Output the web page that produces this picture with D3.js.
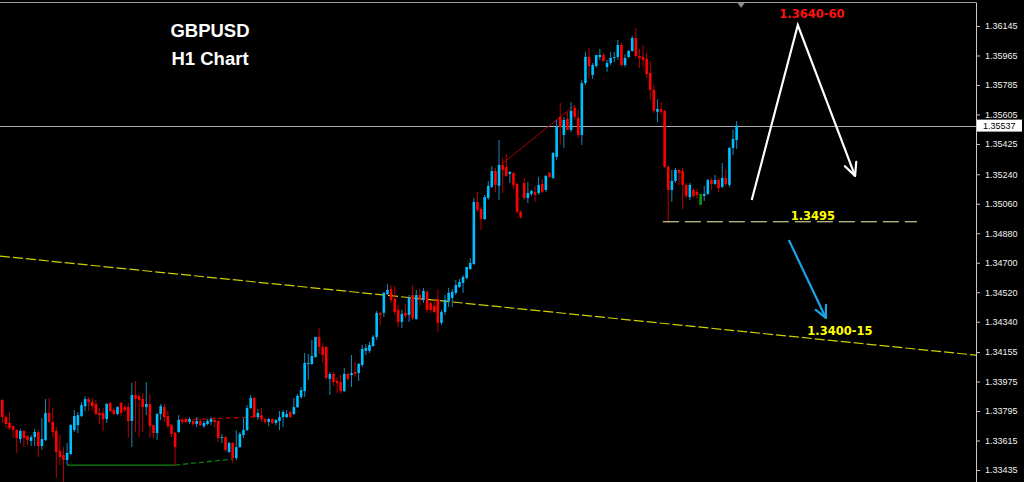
<!DOCTYPE html>
<html><head><meta charset="utf-8">
<script src="https://cdn.jsdelivr.net/npm/d3@7"></script>
<style>html,body{margin:0;padding:0;background:#000;overflow:hidden}</style>
</head><body><svg id="c" width="1024" height="482"></svg>
<script>
// ---- data (GBPUSD H1) ----
const open=[1.33862,1.33758,1.33722,1.33703,1.33679,1.33624,1.33673,1.33642,1.33612,1.33636,
1.33667,1.33581,1.33618,1.33783,1.33728,1.33673,1.33551,1.33526,1.33496,1.33533,
1.33679,1.33709,1.33764,1.33825,1.33868,1.33850,1.33838,1.33783,1.33783,1.33746,
1.33844,1.33801,1.33777,1.33844,1.33819,1.33819,1.33734,1.33893,1.33886,1.33868,
1.33819,1.33838,1.33709,1.33661,1.33777,1.33819,1.33764,1.33709,1.33661,1.33667,
1.33740,1.33746,1.33728,1.33734,1.33716,1.33734,1.33703,1.33716,1.33728,1.33740,
1.33734,1.33630,1.33636,1.33545,1.33600,1.33508,1.33575,1.33648,1.33679,1.33813,
1.33875,1.33758,1.33770,1.33746,1.33728,1.33746,1.33722,1.33734,1.33758,1.33758,
1.33789,1.33777,1.33819,1.33881,1.33917,1.34082,1.34082,1.34125,1.34247,1.34186,
1.34186,1.33991,1.34021,1.33979,1.33972,1.33917,1.34021,1.34015,1.34033,1.34027,
1.34076,1.34162,1.34162,1.34192,1.34247,1.34394,1.34394,1.34509,1.34540,1.34479,
1.34412,1.34339,1.34394,1.34382,1.34503,1.34357,1.34503,1.34473,1.34522,1.34455,
1.34437,1.34479,1.34333,1.34400,1.34467,1.34485,1.34516,1.34552,1.34577,1.34607,
1.34662,1.34693,1.35071,1.35028,1.34967,1.35095,1.35163,1.35260,1.35169,1.35297,
1.35285,1.35242,1.35248,1.35181,1.35010,1.35187,1.35095,1.35120,1.35132,1.35126,
1.35181,1.35144,1.35248,1.35218,1.35346,1.35590,1.35480,1.35578,1.35511,1.35645,
1.35584,1.35480,1.35797,1.35956,1.35846,1.35901,1.35956,1.35968,1.35895,1.35919,
1.35950,1.35956,1.36029,1.35907,1.35956,1.35993,1.36072,1.35962,1.35956,1.35944,
1.35858,1.35755,1.35621,1.35639,1.35627,1.35285,1.35144,1.35199,1.35266,1.35260,
1.35175,1.35101,1.35144,1.35132,1.35053,1.35108,1.35120,1.35205,1.35181,1.35205,
1.35163,1.35218,1.35175,1.35401,1.35449];
const high=[1.33868,1.33770,1.33789,1.33709,1.33685,1.33685,1.33679,1.33648,1.33648,1.33685,
1.33679,1.33752,1.33868,1.33874,1.33813,1.33697,1.33648,1.33575,1.33600,1.33716,
1.33801,1.33789,1.33850,1.33886,1.33880,1.33874,1.33862,1.33813,1.33813,1.33844,
1.33850,1.33813,1.33825,1.33850,1.33831,1.33844,1.33966,1.33978,1.33905,1.33905,
1.33972,1.33899,1.33709,1.33783,1.33838,1.33838,1.33795,1.33716,1.33667,1.33770,
1.33752,1.33758,1.33758,1.33746,1.33758,1.33746,1.33734,1.33746,1.33758,1.33758,
1.33740,1.33655,1.33642,1.33606,1.33606,1.33679,1.33667,1.33752,1.33831,1.33893,
1.33881,1.33807,1.33813,1.33752,1.33752,1.33752,1.33746,1.33795,1.33801,1.33801,
1.33801,1.33875,1.33899,1.33942,1.34149,1.34143,1.34229,1.34247,1.34302,1.34211,
1.34192,1.34033,1.34033,1.34003,1.34015,1.34058,1.34027,1.34137,1.34094,1.34088,
1.34198,1.34204,1.34217,1.34259,1.34406,1.34400,1.34522,1.34571,1.34564,1.34558,
1.34443,1.34412,1.34449,1.34503,1.34564,1.34534,1.34540,1.34546,1.34534,1.34461,
1.34473,1.34540,1.34412,1.34503,1.34546,1.34540,1.34595,1.34601,1.34625,1.34674,
1.34729,1.35095,1.35132,1.35041,1.35114,1.35199,1.35291,1.35279,1.35449,1.35340,
1.35364,1.35260,1.35254,1.35187,1.35022,1.35218,1.35193,1.35144,1.35169,1.35224,
1.35211,1.35236,1.35254,1.35376,1.35572,1.35675,1.35590,1.35621,1.35681,1.35663,
1.35633,1.35816,1.35987,1.36011,1.35919,1.35968,1.36005,1.35981,1.35938,1.35987,
1.35987,1.36060,1.36042,1.35974,1.35999,1.36084,1.36133,1.36005,1.36029,1.35981,
1.35932,1.35785,1.35697,1.35681,1.35633,1.35297,1.35266,1.35279,1.35272,1.35279,
1.35187,1.35187,1.35156,1.35150,1.35120,1.35169,1.35211,1.35218,1.35236,1.35218,
1.35309,1.35272,1.35407,1.35511,1.35565];
const low=[1.33722,1.33691,1.33679,1.33630,1.33539,1.33600,1.33575,1.33587,1.33581,1.33581,
1.33514,1.33557,1.33612,1.33722,1.33636,1.33386,1.33465,1.33362,1.33465,1.33526,
1.33667,1.33661,1.33758,1.33795,1.33795,1.33801,1.33770,1.33716,1.33673,1.33722,
1.33789,1.33770,1.33770,1.33764,1.33789,1.33630,1.33575,1.33667,1.33636,1.33667,
1.33770,1.33630,1.33630,1.33618,1.33740,1.33728,1.33691,1.33636,1.33465,1.33661,
1.33716,1.33722,1.33716,1.33703,1.33697,1.33703,1.33691,1.33709,1.33709,1.33697,
1.33606,1.33600,1.33545,1.33539,1.33477,1.33496,1.33569,1.33630,1.33673,1.33807,
1.33752,1.33740,1.33728,1.33716,1.33703,1.33716,1.33709,1.33679,1.33697,1.33752,
1.33752,1.33770,1.33813,1.33869,1.33881,1.33985,1.34076,1.34119,1.34143,1.34088,
1.33985,1.33893,1.33948,1.33905,1.33899,1.33911,1.33979,1.33942,1.34003,1.33979,
1.34064,1.34137,1.34149,1.34186,1.34229,1.34321,1.34369,1.34503,1.34455,1.34382,
1.34308,1.34302,1.34363,1.34339,1.34351,1.34351,1.34437,1.34455,1.34394,1.34394,
1.34394,1.34278,1.34321,1.34382,1.34430,1.34430,1.34503,1.34546,1.34516,1.34601,
1.34656,1.34686,1.35010,1.34900,1.34961,1.35083,1.35156,1.35132,1.35083,1.35126,
1.35224,1.35187,1.35150,1.35004,1.34967,1.35083,1.35065,1.35108,1.35071,1.35114,
1.35126,1.35132,1.35218,1.35211,1.35327,1.35419,1.35401,1.35511,1.35498,1.35572,
1.35462,1.35419,1.35785,1.35828,1.35822,1.35889,1.35938,1.35925,1.35865,1.35907,
1.35925,1.35938,1.35895,1.35895,1.35950,1.35987,1.35950,1.35889,1.35895,1.35828,
1.35694,1.35614,1.35559,1.35602,1.35279,1.34943,1.35071,1.35187,1.35175,1.35028,
1.35095,1.35083,1.35095,1.35089,1.35053,1.35077,1.35114,1.35144,1.35175,1.35132,
1.35156,1.35169,1.35163,1.35358,1.35395];
const close=[1.33758,1.33716,1.33691,1.33679,1.33630,1.33673,1.33630,1.33618,1.33636,1.33667,
1.33581,1.33624,1.33783,1.33728,1.33667,1.33545,1.33514,1.33496,1.33539,1.33709,
1.33764,1.33770,1.33831,1.33868,1.33850,1.33825,1.33777,1.33770,1.33746,1.33838,
1.33795,1.33777,1.33819,1.33783,1.33801,1.33734,1.33893,1.33868,1.33862,1.33819,
1.33838,1.33703,1.33661,1.33777,1.33825,1.33758,1.33703,1.33655,1.33575,1.33740,
1.33728,1.33728,1.33746,1.33716,1.33734,1.33709,1.33722,1.33734,1.33746,1.33728,
1.33630,1.33636,1.33557,1.33600,1.33508,1.33575,1.33655,1.33679,1.33813,1.33874,
1.33758,1.33783,1.33746,1.33728,1.33746,1.33722,1.33740,1.33758,1.33789,1.33777,
1.33758,1.33819,1.33887,1.33923,1.34088,1.34088,1.34131,1.34247,1.34186,1.34137,
1.33997,1.34021,1.33972,1.33966,1.33917,1.34021,1.33991,1.34027,1.34021,1.34082,
1.34174,1.34180,1.34198,1.34247,1.34394,1.34382,1.34516,1.34534,1.34473,1.34400,
1.34339,1.34388,1.34376,1.34485,1.34363,1.34503,1.34473,1.34528,1.34412,1.34412,
1.34400,1.34333,1.34400,1.34473,1.34516,1.34522,1.34564,1.34583,1.34613,1.34674,
1.34699,1.35071,1.35022,1.34967,1.35101,1.35169,1.35260,1.35175,1.35297,1.35266,
1.35230,1.35254,1.35175,1.35010,1.34979,1.35095,1.35126,1.35138,1.35114,1.35175,
1.35132,1.35230,1.35224,1.35370,1.35529,1.35529,1.35572,1.35511,1.35627,1.35590,
1.35480,1.35797,1.35956,1.35901,1.35907,1.35968,1.35968,1.35932,1.35919,1.35950,
1.35956,1.36029,1.35907,1.35950,1.35993,1.36072,1.35962,1.35950,1.35938,1.35852,
1.35755,1.35627,1.35639,1.35621,1.35285,1.35144,1.35199,1.35266,1.35248,1.35175,
1.35108,1.35175,1.35108,1.35114,1.35120,1.35120,1.35205,1.35181,1.35205,1.35156,
1.35218,1.35181,1.35401,1.35456,1.35537];
const greenBars=[194];
const tickValues=[1.36145,1.35965,1.35785,1.35605,1.35425,1.35240,1.35060,1.34880,1.34700,1.34520,1.34340,1.34155,1.33975,1.33795,1.33615,1.33435];
const tickLabels=["1.36145","1.35965","1.35785","1.35605","1.35425","1.35240","1.35060","1.34880","1.34700","1.34520","1.34340","1.34155","1.33975","1.33795","1.33615","1.33435"];
const currentPrice=1.35537, currentLabel="1.35537";
// drawn objects: [bar index, price]
const trendLine=[[-0.64,1.34741],[270.5,1.34136]];
const greenSolid=[[18,1.33465],[48,1.33465]];
const greenDashed=[[48,1.33465],[64.1,1.33502]];
const redDashed=[[48.8,1.33740],[73,1.33761]];
const redLine=[[138.8,1.35303],[158.8,1.35657]];
const levelLine=[[183.5,1.3495],[254.1,1.3495]];
const whitePath=[[208.2,1.35083],[221.0,1.36151],[236.9,1.35230]];
const bluePath=[[218.5,1.34839],[228.8,1.34363]];
const notes=[{t:"1.3640-60",i:224.9,p:1.36194,c:"#ff1010"},{t:"1.3495",i:225.2,p:1.34961,c:"#ffff00"},{t:"1.3400-15",i:232.7,p:1.34259,c:"#ffff00"}];
const titleLines=["GBPUSD","H1 Chart"];

// ---- drawing ----
const W=1024,H=482, plotR=976;
const svg=d3.select("#c");
svg.append("rect").attr("width",W).attr("height",H).attr("fill","#000");
const x=d3.scaleLinear().domain([-0.64,270.5]).range([0,plotR]);
const y=d3.scaleLinear().domain([1.33435,1.36145]).range([470,26]);
const line=d3.line().x(d=>x(d[0])).y(d=>y(d[1]));

// frame
svg.append("line").attr("x1",0).attr("x2",plotR).attr("y1",2.5).attr("y2",2.5).attr("stroke","#9a9a9a");
// axis
const ax=svg.append("g").attr("transform",`translate(${plotR},0)`)
  .call(d3.axisRight(y).tickValues(tickValues).tickFormat((d,i)=>tickLabels[i]).tickSize(4).tickPadding(5));
ax.select(".domain").attr("stroke","#c8c8c8").attr("d",`M0.5,2.5V${H}`);
ax.selectAll(".tick line").attr("stroke","#c8c8c8");
ax.selectAll(".tick text").attr("fill","#f0f0f0").attr("font-family","Liberation Sans, Arial, sans-serif").attr("font-size","9px");

// trend line
svg.append("path").attr("d",line(trendLine)).attr("stroke","#d0d000").attr("stroke-width",1.2).attr("stroke-dasharray","10,3").attr("fill","none");
// current price line
svg.append("line").attr("x1",0).attr("x2",plotR).attr("y1",Math.round(y(currentPrice))+0.5).attr("y2",Math.round(y(currentPrice))+0.5).attr("stroke","#a8aeb4").attr("stroke-width",1);

// pattern lines
svg.append("path").attr("d",line(greenSolid)).attr("stroke","#0f8a0f").attr("stroke-width",1.3).attr("fill","none");
svg.append("path").attr("d",line(greenDashed)).attr("stroke","#0f7a0f").attr("stroke-width",1.3).attr("stroke-dasharray","5,3").attr("fill","none");
svg.append("path").attr("d",line(redDashed)).attr("stroke","#c00000").attr("stroke-width",1.2).attr("stroke-dasharray","5,3").attr("fill","none");
svg.append("path").attr("d",line(redLine)).attr("stroke","#b00000").attr("stroke-width",1).attr("fill","none");

// candles
const idx=d3.range(close.length);
const g=svg.append("g");
const bull=i=>close[i]>=open[i];
g.selectAll("line.w").data(idx).join("line")
  .attr("x1",i=>x(i)).attr("x2",i=>x(i)).attr("y1",i=>y(high[i])).attr("y2",i=>y(low[i]))
  .attr("stroke",i=>greenBars.includes(i)?"#0c8a0c":(bull(i)?"#1888b8":"#b80000")).attr("stroke-width",1);
g.selectAll("rect.b").data(idx).join("rect")
  .attr("x",i=>x(i)-1.3).attr("width",2.6)
  .attr("y",i=>y(Math.max(open[i],close[i])))
  .attr("height",i=>Math.max(1,Math.abs(y(open[i])-y(close[i]))))
  .attr("fill",i=>greenBars.includes(i)?"#0c9a0c":(bull(i)?"#00bfff":"#ff0000"));

// shift marker
const sx=x(close.length-1)+4.5;
svg.append("path").attr("d",`M${sx-3.5},3L${sx+3.5},3L${sx},8Z`).attr("fill","#8a8a8a");

// level
svg.append("path").attr("d",line(levelLine)).attr("stroke","#f6f4b0").attr("stroke-width",1).attr("stroke-dasharray","16,6").attr("fill","none");

// arrows
function arrow(pts,color,w,len,ang){
  svg.append("path").attr("d",line(pts)).attr("stroke",color).attr("stroke-width",w).attr("fill","none").attr("stroke-linejoin","miter");
  const a=pts[pts.length-2], b=pts[pts.length-1];
  const tx=x(b[0]), ty=y(b[1]);
  const th=Math.atan2(ty-y(a[1]), tx-x(a[0]))+Math.PI;
  [ang,-ang].forEach(s=>{
    svg.append("line").attr("x1",tx).attr("y1",ty)
      .attr("x2",tx+len*Math.cos(th+s)).attr("y2",ty+len*Math.sin(th+s))
      .attr("stroke",color).attr("stroke-width",w).attr("stroke-linecap","round");
  });
}
arrow(whitePath,"#ffffff",2.2,14,0.45);
arrow(bluePath,"#1ba3e6",2.2,13,0.45);

// notes
notes.forEach(n=>svg.append("text").attr("x",x(n.i)).attr("y",y(n.p)).attr("text-anchor","middle")
  .attr("font-family","DejaVu Sans, Verdana, sans-serif").attr("font-weight","bold").attr("font-size","11.5px")
  .attr("fill",n.c).text(n.t));

// price label box
const cy=y(currentPrice);
svg.append("rect").attr("x",plotR+1).attr("y",cy-6).attr("width",W-plotR-3).attr("height",12).attr("fill","#ffffff");
svg.append("text").attr("x",plotR+7).attr("y",cy+3.5).attr("font-family","Liberation Sans, Arial, sans-serif").attr("font-size","9px").attr("fill","#000").text(currentLabel);

// title
titleLines.forEach((t,k)=>svg.append("text").attr("x",210).attr("y",37+k*28).attr("text-anchor","middle")
  .attr("font-family","Liberation Sans, Arial, sans-serif").attr("font-weight","bold").attr("font-size","18.5px")
  .attr("fill","#ffffff").text(t));
</script></body></html>
